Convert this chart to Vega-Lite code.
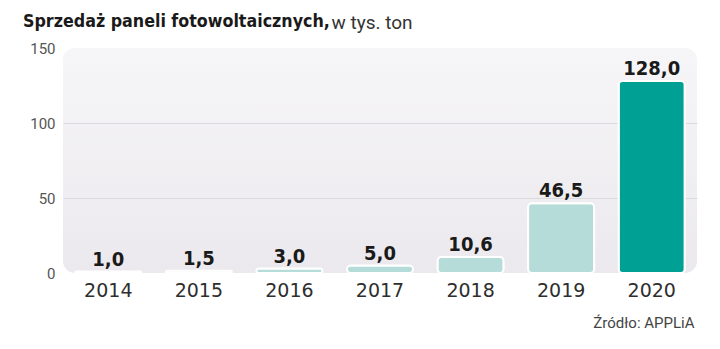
{
  "$schema": "https://vega.github.io/schema/vega-lite/v6.json",
  "width": 634,
  "height": 225,
  "autosize": {"type": "none"},
  "padding": {"left": 63, "top": 48, "right": 23, "bottom": 76},
  "title": {
    "text": "Sprzedaż paneli fotowoltaicznych,",
    "anchor": "start",
    "frame": "group",
    "dx": -40,
    "dy": 18,
    "font": "DejaVu Sans Condensed",
    "fontWeight": "bold",
    "fontSize": 17.7,
    "color": "#1a1a1a",
    "offset": 0
  },
  "data": {
    "values": [
      {"rok": "2014", "wartosc": 1.0},
      {"rok": "2015", "wartosc": 1.5},
      {"rok": "2016", "wartosc": 3.0},
      {"rok": "2017", "wartosc": 5.0},
      {"rok": "2018", "wartosc": 10.6},
      {"rok": "2019", "wartosc": 46.5},
      {"rok": "2020", "wartosc": 128.0}
    ]
  },
  "encoding": {
    "x": {
      "field": "rok",
      "type": "nominal",
      "sort": null,
      "scale": {"paddingInner": 0.27, "paddingOuter": 0.135},
      "axis": {
        "title": "Źródło: APPLiA",
        "titleFont": "Roboto",
        "titleFontWeight": "normal",
        "titleFontSize": 15,
        "titleColor": "#444444",
        "titleAnchor": "end",
        "titleAlign": "right",
        "titleBaseline": "alphabetic",
        "titleX": 631,
        "titleY": 54,
        "labelAngle": 0,
        "labelFont": "DejaVu Sans",
        "labelFontSize": 19,
        "labelColor": "#2e2e2e",
        "labelPadding": 8,
        "ticks": false,
        "domain": false
      }
    },
    "y": {
      "field": "wartosc",
      "type": "quantitative",
      "scale": {"domain": [0, 150], "nice": false},
      "axis": {
        "values": [0, 50, 100, 150],
        "title": "w tys. ton",
        "titleFont": "Roboto",
        "titleFontWeight": "normal",
        "titleFontSize": 19,
        "titleColor": "#333333",
        "titleAngle": 0,
        "titleAlign": "left",
        "titleBaseline": "alphabetic",
        "titleX": 268,
        "titleY": -20,
        "labelFont": "Roboto",
        "labelFontSize": 15,
        "labelColor": "#555555",
        "labelPadding": 8,
        "ticks": false,
        "domain": false,
        "gridColor": {"condition": {"test": "datum.value === 50 || datum.value === 100", "value": "#dcdadf"}, "value": "transparent"},
        "gridWidth": 1
      }
    }
  },
  "layer": [
    {
      "mark": {"type": "bar", "cornerRadius": 4, "stroke": "#ffffff", "strokeWidth": 2},
      "encoding": {
        "color": {
          "condition": {"test": "datum.rok === '2020'", "value": "#00a094"},
          "value": "#b6dcd9"
        }
      }
    },
    {
      "mark": {
        "type": "text",
        "baseline": "alphabetic",
        "dy": -6,
        "font": "DejaVu Sans Condensed",
        "fontWeight": "bold",
        "fontSize": 20,
        "color": "#1a1a1a"
      },
      "encoding": {
        "text": {"field": "wartosc", "type": "quantitative", "format": ".1f"}
      }
    }
  ],
  "config": {
    "locale": {"number": {"decimal": ",", "thousands": " ", "grouping": [3], "currency": ["", ""]}},
    "view": {
      "stroke": null,
      "cornerRadius": 12,
      "fill": {
        "gradient": "linear",
        "x1": 0, "y1": 0, "x2": 0, "y2": 1,
        "stops": [
          {"offset": 0, "color": "#f6f5f7"},
          {"offset": 1, "color": "#ebe9ed"}
        ]
      }
    }
  }
}
